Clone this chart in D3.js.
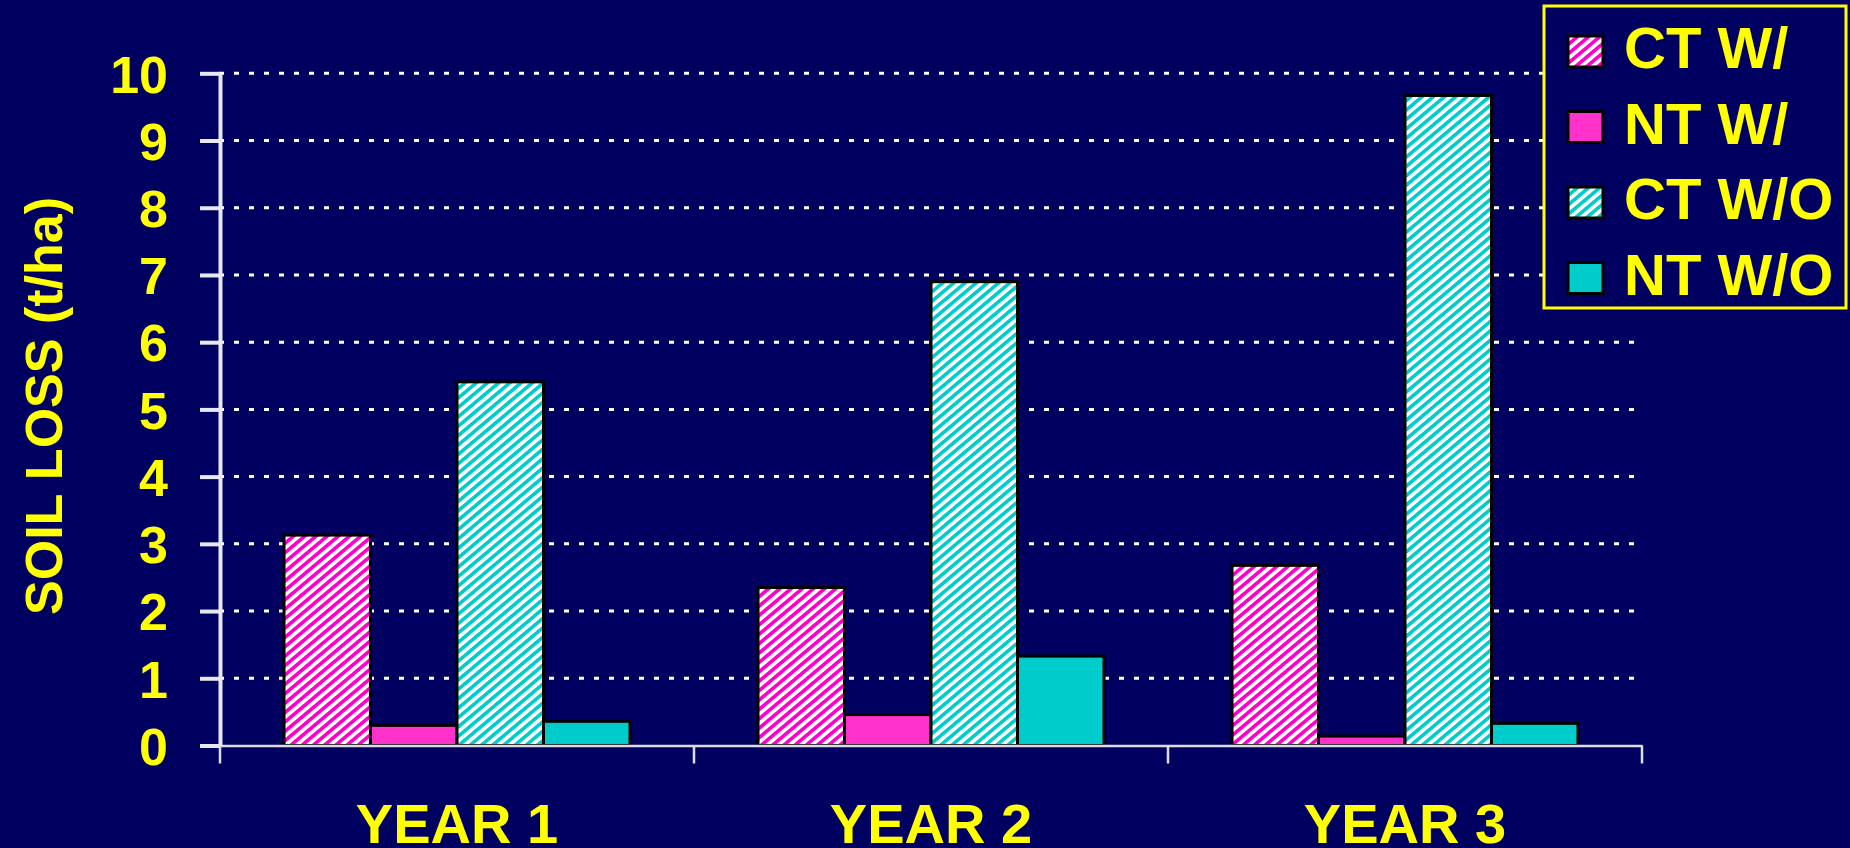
<!DOCTYPE html>
<html>
<head>
<meta charset="utf-8">
<script src="https://cdn.jsdelivr.net/npm/d3@7"></script>
<style>
  html, body { margin: 0; padding: 0; background: #000060; overflow: hidden; }
  svg { display: block; }
  text { font-family: "Liberation Sans", Arial, sans-serif; font-weight: bold; fill: #FFFF00; }
</style>
</head>
<body>
<svg id="chart" width="1850" height="848"></svg>
<script>
// Soil loss by year and tillage treatment
const years = ["YEAR 1", "YEAR 2", "YEAR 3"];
const seriesNames = ["CT W/", "NT W/", "CT W/O", "NT W/O"];
const ctWith    = [3.13, 2.35, 2.68];
const ntWith    = [0.30, 0.46, 0.14];
const ctWithout = [5.41, 6.90, 9.67];
const ntWithout = [0.36, 1.33, 0.33];
const yTicks = [0, 1, 2, 3, 4, 5, 6, 7, 8, 9, 10];
const yTitle = "SOIL LOSS (t/ha)";

const seriesValues = [ctWith, ntWith, ctWithout, ntWithout];
const seriesFill = ["url(#hatchMagenta)", "#FF33CC", "url(#hatchCyan)", "#00CCCC"];

const svg = d3.select("#chart");
const defs = svg.append("defs");

// Diagonal hatch fills for the CT series
function hatch(id, color) {
  const s = 7.2;
  const p = defs.append("pattern")
    .attr("id", id)
    .attr("patternUnits", "userSpaceOnUse")
    .attr("width", s).attr("height", s)
    .attr("patternTransform", "rotate(50)");
  p.append("rect").attr("width", s).attr("height", s).attr("fill", "#FFFFFF");
  p.append("rect").attr("width", s * 0.52).attr("height", s).attr("fill", color)
    .attr("shape-rendering", "crispEdges");
}
hatch("hatchMagenta", "#FF00CC");
hatch("hatchCyan", "#00CCCC");

const x0 = d3.scaleBand().domain(years).range([220, 1642]).padding(0);
const groupPad = 64;
const x1 = d3.scaleBand().domain(seriesNames).range([groupPad, x0.bandwidth() - groupPad]).padding(0);
const y = d3.scaleLinear().domain([0, 10]).range([745.5, 73.3]);

// Dotted gridlines
svg.append("g")
  .selectAll("line")
  .data(yTicks.filter(d => d > 0))
  .join("line")
  .attr("x1", 219).attr("x2", 1634)
  .attr("y1", d => y(d)).attr("y2", d => y(d))
  .attr("stroke", "#FFFFFF")
  .attr("stroke-width", 3)
  .attr("stroke-dasharray", "5,10");

// Bars
const rows = [];
years.forEach((yr, i) => {
  seriesNames.forEach((s, j) => rows.push({ year: yr, series: s, j, value: seriesValues[j][i] }));
});
svg.append("g")
  .selectAll("rect")
  .data(rows)
  .join("rect")
  .attr("x", d => x0(d.year) + x1(d.series))
  .attr("width", x1.bandwidth())
  .attr("y", d => y(d.value))
  .attr("height", d => y(0) - y(d.value))
  .attr("fill", d => seriesFill[d.j])
  .attr("stroke", "#000000")
  .attr("stroke-width", 3);

// Y axis
const yAxis = svg.append("g")
  .attr("transform", "translate(220,0)")
  .call(d3.axisLeft(y).tickValues(yTicks).tickFormat(d3.format("d"))
    .tickSize(20).tickSizeOuter(0).tickPadding(32));
yAxis.select(".domain").attr("stroke", "#E8E8F4").attr("stroke-width", 4);
yAxis.selectAll(".tick line").attr("stroke", "#E8E8F4").attr("stroke-width", 4);
yAxis.selectAll(".tick text")
  .attr("fill", "#FFFF00")
  .attr("dy", "0.36em")
  .style("font-size", "52px")
  .style("font-family", "'Liberation Sans', Arial, sans-serif")
  .style("font-weight", "bold");

// X axis with category labels
const xAxis = svg.append("g")
  .attr("transform", `translate(0,${y(0)})`)
  .call(d3.axisBottom(x0).tickSize(0).tickSizeOuter(0).tickPadding(58));
xAxis.select(".domain").attr("stroke", "#DCDCE8").attr("stroke-width", 2.5);
xAxis.selectAll(".tick text")
  .attr("fill", "#FFFF00")
  .style("font-size", "56px")
  .style("font-family", "'Liberation Sans', Arial, sans-serif")
  .style("font-weight", "bold");

// Category boundary ticks
const boundaries = years.map(d => x0(d)).concat([x0(years[years.length - 1]) + x0.bandwidth()]);
xAxis.selectAll(".boundary")
  .data(boundaries)
  .join("line")
  .attr("class", "boundary")
  .attr("x1", d => d).attr("x2", d => d)
  .attr("y1", 0).attr("y2", 18)
  .attr("stroke", "#DCDCE8")
  .attr("stroke-width", 2.5);

// Y axis title
svg.append("text")
  .attr("transform", "translate(62,406) rotate(-90)")
  .attr("text-anchor", "middle")
  .style("font-size", "52px")
  .text(yTitle);

// Legend
const legend = svg.append("g").attr("transform", "translate(1544,6)");
legend.append("rect")
  .attr("width", 302).attr("height", 302)
  .attr("fill", "#000060")
  .attr("stroke", "#FFFF00")
  .attr("stroke-width", 3);
const item = legend.selectAll(".item")
  .data(seriesNames)
  .join("g")
  .attr("class", "item")
  .attr("transform", (d, i) => `translate(0,${i * 75.5})`);
item.append("rect")
  .attr("x", 24).attr("y", 30)
  .attr("width", 35).attr("height", 31)
  .attr("fill", (d, i) => seriesFill[i])
  .attr("stroke", "#000000")
  .attr("stroke-width", 3);
item.append("text")
  .attr("x", 80).attr("y", 62)
  .style("font-size", "58px")
  .text(d => d);
</script>
</body>
</html>
